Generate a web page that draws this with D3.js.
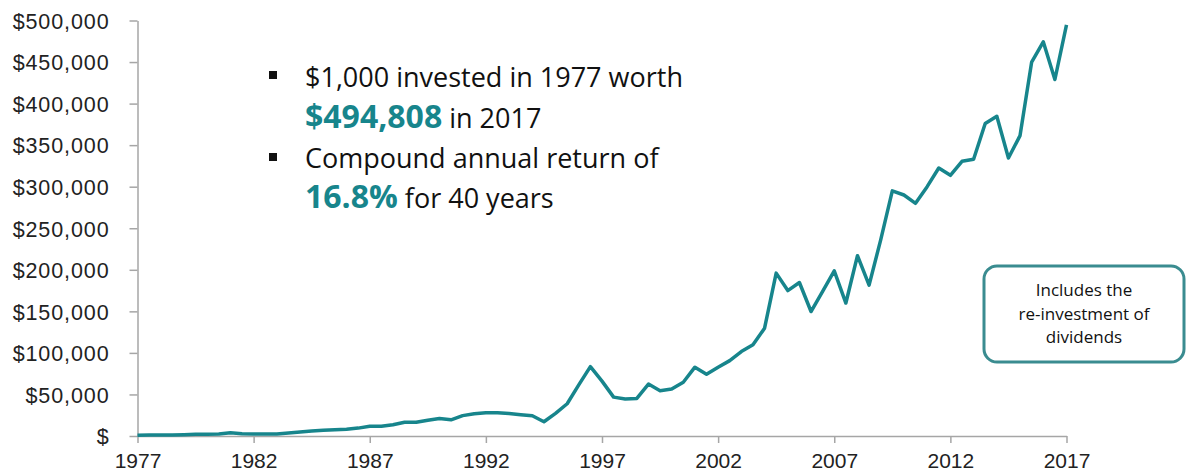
<!DOCTYPE html>
<html>
<head>
<meta charset="utf-8">
<script src="https://cdn.jsdelivr.net/npm/d3@7"></script>
<style>
  body { margin: 0; background: #fff; }
  svg { display: block; }
  .axis path, .axis line { stroke: #a6a6a6; stroke-width: 1.5; }
  .axis text { font-family: "Liberation Sans", Arial, sans-serif; font-size: 21px; fill: #222; }
  .yaxis text { font-size: 21.5px; letter-spacing: 0.9px; }
  .note { font-family: "Open Sans", sans-serif; fill: #111; }
  .hl { fill: #17858c; font-weight: bold; }
</style>
</head>
<body>
<svg id="chart" width="1187" height="474"></svg>
<script>
// half-year steps, 1977 to 2017
const YEARS = d3.range(1977, 2017.01, 0.5);
const VALUES = [
  1000, 1100, 1200, 1300, 1500, 2000, 2100, 2400, 3800, 2600,
  2400, 2400, 2500, 3500, 4800, 6000, 6800, 7400, 8200, 9500,
  11800, 11800, 13500, 16500, 16500, 19000, 21000, 19500, 24500, 26800,
  28000, 28000, 27000, 25500, 24300, 17200, 27300, 38800, 61500, 83500,
  66000, 46800, 44600, 45200, 62500, 54500, 56500, 64700, 82800, 74300,
  82800, 90700, 101600, 109700, 129800, 196000, 175000, 184700, 149800, 174000,
  198800, 160000, 217000, 181500, 236000, 295000, 290000, 280000, 300000, 322500,
  313700, 330600, 333000, 376000, 384800, 334600, 361500, 450000, 474400, 429000,
  494808
];
const X_TICKS = [1977, 1982, 1987, 1992, 1997, 2002, 2007, 2012, 2017];
const Y_TICKS = [0, 50000, 100000, 150000, 200000, 250000, 300000, 350000, 400000, 450000, 500000];
const BOX_LINES = ['Includes the', 're-investment of', 'dividends'];

const TEAL = '#17858c';

const svg = d3.select('#chart');
const data = YEARS.map((y, i) => ({year: y, value: VALUES[i]}));

const x = d3.scaleLinear().domain([1977, 2017]).range([137.5, 1066.5]);
const y = d3.scaleLinear().domain([0, 500000]).range([436, 20.5]);

// y axis
const yAxis = d3.axisLeft(y)
  .tickValues(Y_TICKS)
  .tickSize(8)
  .tickSizeOuter(0)
  .tickPadding(20)
  .tickFormat(d => d === 0 ? '$' : '$' + d3.format(',')(d));
svg.append('g')
  .attr('class', 'axis yaxis')
  .attr('transform', 'translate(137.5,0)')
  .call(yAxis)
  .selectAll('text')
  .attr('dy', '0.36em');

// x axis
const xAxis = d3.axisBottom(x)
  .tickValues(X_TICKS)
  .tickSize(7)
  .tickSizeOuter(0)
  .tickPadding(10)
  .tickFormat(d3.format('d'));
svg.append('g')
  .attr('class', 'axis')
  .attr('transform', 'translate(0,436)')
  .call(xAxis);

// the line
const line = d3.line()
  .x(d => x(d.year))
  .y(d => y(d.value));
svg.append('path')
  .datum(data)
  .attr('fill', 'none')
  .attr('stroke', TEAL)
  .attr('stroke-width', 3.5)
  .attr('stroke-linejoin', 'round')
  .attr('d', line);

// bullet text
const note = svg.append('g').attr('class', 'note');
note.append('rect').attr('x', 269).attr('y', 71).attr('width', 8).attr('height', 8).attr('fill', '#111');
note.append('rect').attr('x', 269).attr('y', 153).attr('width', 8).attr('height', 8).attr('fill', '#111');

note.append('text').attr('x', 305).attr('y', 87).style('font-size', '27px')
  .text('$1,000 invested in 1977 worth');
const t2 = note.append('text').attr('x', 305).attr('y', 128).style('font-size', '27px');
t2.append('tspan').attr('class', 'hl').style('font-size', '32px').text('$494,808');
t2.append('tspan').text(' in 2017');
note.append('text').attr('x', 305).attr('y', 168).style('font-size', '27px')
  .text('Compound annual return of');
const t4 = note.append('text').attr('x', 305).attr('y', 208).style('font-size', '27px');
t4.append('tspan').attr('class', 'hl').style('font-size', '32px').text('16.8%');
t4.append('tspan').text(' for 40 years');

// callout box
const box = svg.append('g');
box.append('rect')
  .attr('x', 984).attr('y', 266)
  .attr('width', 200).attr('height', 96)
  .attr('rx', 13)
  .attr('fill', '#fff')
  .attr('stroke', '#3a8c90')
  .attr('stroke-width', 3);
box.selectAll('text')
  .data(BOX_LINES)
  .enter().append('text')
  .attr('class', 'note')
  .attr('x', 1084)
  .attr('y', (d, i) => 296 + i * 23.5)
  .attr('text-anchor', 'middle')
  .style('font-size', '17px')
  .text(d => d);
</script>
</body>
</html>
